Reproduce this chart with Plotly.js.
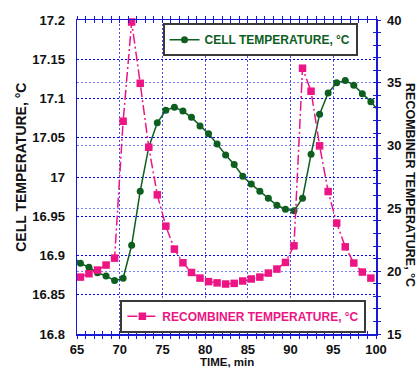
<!DOCTYPE html>
<html>
<head>
<meta charset="utf-8">
<script src="https://cdn.plot.ly/plotly-3.0.1.min.js"></script>
<style>html,body{margin:0;padding:0;background:#fff;}#chart{width:419px;height:369px;}</style>
</head>
<body>
<div id="chart"></div>
<script>
// ---- data ----
const timeMin = [64.4, 65.4, 66.4, 67.4, 68.4, 69.4, 70.4, 71.4, 72.4, 73.4, 74.4, 75.4, 76.4, 77.4, 78.4, 79.4, 80.4, 81.4, 82.4, 83.4, 84.4, 85.4, 86.4, 87.4, 88.4, 89.4, 90.4, 91.4, 92.4, 93.4, 94.4, 95.4, 96.4, 97.4, 98.4, 99.4, 100.4];
const cellTemp = [16.900, 16.890, 16.885, 16.878, 16.874, 16.868, 16.871, 16.913, 16.982, 17.038, 17.069, 17.085, 17.089, 17.084, 17.076, 17.065, 17.055, 17.042, 17.028, 17.016, 17.001, 16.991, 16.982, 16.973, 16.964, 16.959, 16.957, 16.973, 17.029, 17.080, 17.107, 17.120, 17.123, 17.117, 17.106, 17.096, 17.083];
const recombinerTemp = [null, 19.53, 19.80, 20.09, 20.49, 21.04, 31.94, 39.84, 34.96, 29.87, 26.08, 23.59, 21.76, 20.67, 19.90, 19.45, 19.17, 19.07, 18.98, 19.03, 19.22, 19.38, 19.53, 19.85, 20.17, 20.70, 22.02, 36.16, 34.33, 29.98, 26.34, 23.83, 21.94, 20.65, 19.93, 19.45, null];

const xTickVals = [65, 70, 75, 80, 85, 90, 95, 100];
const leftTickVals = [16.8, 16.85, 16.9, 16.95, 17, 17.05, 17.1, 17.15, 17.2];
const leftTickText = ['16.8', '16.85', '16.9', '16.95', '17', '17.05', '17.1', '17.15', '17.2'];
const rightTickVals = [15, 20, 25, 30, 35, 40];

const cellName = 'CELL TEMPERATURE, °C';
const recName = 'RECOMBINER TEMPERATURE, °C';
const xTitle = 'TIME, min';

// ---- styles ----
const GREEN = '#0d5e1f';
const PINK = '#ec1583';
const AXIS = '#1818d8';
const FONT = 'Liberation Sans, Arial, sans-serif';
const tickFont = {family: FONT, size: 13, color: '#111', weight: 'bold'};
const DOTS = '2px,2px';

const traces = [
  {
    x: timeMin, y: cellTemp, name: cellName, type: 'scatter', mode: 'lines+markers',
    xaxis: 'x', yaxis: 'y', legend: 'legend',
    line: {color: GREEN, width: 1.5},
    marker: {symbol: 'circle', size: 7, color: GREEN},
    hoverinfo: 'skip'
  },
  {
    x: timeMin, y: recombinerTemp, name: recName, type: 'scatter', mode: 'lines+markers',
    xaxis: 'x', yaxis: 'y2', legend: 'legend2', cliponaxis: false,
    line: {color: PINK, width: 1.5, dash: '10px,3px,2px,3px'},
    marker: {symbol: 'square', size: 7.5, color: PINK},
    hoverinfo: 'skip'
  },
  {
    x: [], y: [], xaxis: 'x2', yaxis: 'y3', type: 'scatter', mode: 'lines',
    showlegend: false, hoverinfo: 'skip'
  }
];

const layout = {
  width: 419, height: 369,
  margin: {l: 77, r: 43, t: 20, b: 35, pad: 0},
  paper_bgcolor: '#fff', plot_bgcolor: '#fff',
  font: {family: FONT, size: 12, color: '#111'},
  showlegend: true,
  xaxis: {
    range: [65, 100], tickmode: 'array', tickvals: xTickVals,
    showline: true, linecolor: AXIS, linewidth: 1.5, mirror: 'ticks',
    ticks: 'outside', ticklen: 3, tickcolor: AXIS, tickwidth: 1,
    minor: {dtick: 1, ticks: 'outside', ticklen: 3, tickcolor: AXIS, showgrid: false},
    showgrid: true, gridcolor: '#4a4aff', griddash: DOTS, gridwidth: 1,
    tickfont: tickFont, ticklabelstandoff: 0,
    zeroline: false
  },
  xaxis2: {
    range: [65, 100], overlaying: 'x', anchor: 'y3', side: 'bottom',
    showline: false, mirror: 'ticks',
    ticks: 'inside', ticklen: 3, tickcolor: AXIS, tickvals: xTickVals, tickmode: 'array',
    minor: {dtick: 1, ticks: 'inside', ticklen: 3, tickcolor: AXIS, showgrid: false},
    showgrid: false, showticklabels: false, zeroline: false
  },
  yaxis: {
    range: [16.8, 17.2], tickmode: 'array', tickvals: leftTickVals, ticktext: leftTickText,
    showline: true, linecolor: AXIS, linewidth: 1.5, mirror: true,
    ticks: '', showgrid: true, gridcolor: '#0000ee', griddash: DOTS, gridwidth: 1,
    tickfont: tickFont, ticklabelstandoff: 8, zeroline: false
  },
  yaxis2: {
    range: [15, 40], overlaying: 'y', side: 'right', anchor: 'x',
    tickmode: 'array', tickvals: rightTickVals,
    showline: true, linecolor: AXIS, linewidth: 1.5,
    ticks: 'outside', ticklen: 3, tickcolor: AXIS,
    minor: {dtick: 1, ticks: 'outside', ticklen: 3, tickcolor: AXIS, showgrid: false},
    showgrid: true, gridcolor: '#7c7cff', griddash: DOTS, gridwidth: 1,
    tickfont: tickFont, ticklabelstandoff: 4, zeroline: false
  },
  yaxis3: {
    range: [15, 40], overlaying: 'y', side: 'right', anchor: 'x2',
    tickmode: 'array', tickvals: rightTickVals,
    showline: false, ticks: 'inside', ticklen: 3, tickcolor: AXIS,
    minor: {dtick: 1, ticks: 'inside', ticklen: 3, tickcolor: AXIS, showgrid: false},
    showgrid: false, showticklabels: false, zeroline: false
  },
  legend: {
    x: 0.286, y: 0.99, xanchor: 'left', yanchor: 'top',
    bgcolor: '#fff', bordercolor: '#3a3a3a', borderwidth: 2,
    font: {family: FONT, size: 12, color: GREEN, weight: 'bold'},
    itemwidth: 30, tracegroupgap: 0
  },
  legend2: {
    x: 0.145, y: 0.004, xanchor: 'left', yanchor: 'bottom',
    bgcolor: '#fff', bordercolor: '#3a3a3a', borderwidth: 2,
    font: {family: FONT, size: 12, color: PINK, weight: 'bold'},
    itemwidth: 30, tracegroupgap: 0
  },
  annotations: [
    {
      text: cellName, xref: 'paper', yref: 'paper', x: -0.19, y: 0.53,
      xanchor: 'center', yanchor: 'middle', textangle: -90, showarrow: false,
      font: {family: FONT, size: 14, color: '#111', weight: 'bold'}
    },
    {
      text: recName, xref: 'paper', yref: 'paper', x: 1.113, y: 0.475,
      xanchor: 'center', yanchor: 'middle', textangle: 90, showarrow: false,
      font: {family: FONT, size: 12.5, color: '#111', weight: 'bold'}
    },
    {
      text: xTitle, xref: 'paper', yref: 'paper', x: 0.5, y: -0.1115,
      xanchor: 'center', yanchor: 'bottom', showarrow: false, borderpad: 0,
      font: {family: FONT, size: 11.5, color: '#111', weight: 'bold'}
    }
  ]
};

Plotly.newPlot('chart', traces, layout, {staticPlot: true, displayModeBar: false});
</script>
</body>
</html>
